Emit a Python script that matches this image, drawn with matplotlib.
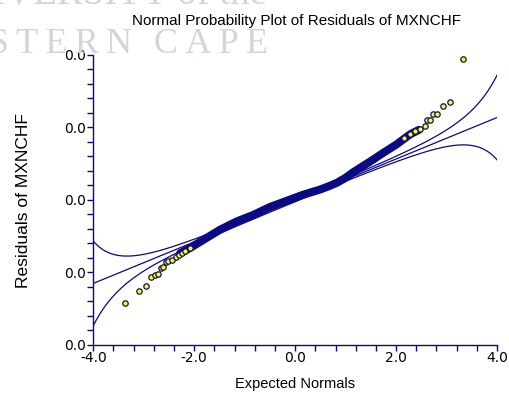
import math
import numpy as np
import matplotlib
matplotlib.use("Agg")
import matplotlib.pyplot as plt
from matplotlib.ticker import MultipleLocator, FixedLocator, FixedFormatter

# ---------------- data ----------------
title = "Normal Probability Plot of Residuals of MXNCHF"
x_label = "Expected Normals"
y_label = "Residuals of MXNCHF"

x_ticks = [-4.0, -2.0, 0.0, 2.0, 4.0]
x_tick_labels = ["-4.0", "-2.0", "0.0", "2.0", "4.0"]
y_ticks = [-0.04, -0.02, 0.0, 0.02, 0.04]
y_tick_labels = ["0.0", "0.0", "0.0", "0.0", "0.0"]

# dense central part of the ordered residuals (expected normal, residual)
band_x = [-2.28, -2.08, -1.82, -1.49, -1.16, -0.83, -0.50, -0.17,
          0.16, 0.49, 0.66, 0.83, 0.99, 1.15, 1.49, 1.75, 2.01, 2.28, 2.45]
band_y = [-0.0148, -0.0133, -0.0111, -0.0083, -0.0060, -0.0042, -0.0020, -0.0003,
          0.0014, 0.0028, 0.0037, 0.0047, 0.0060, 0.0076, 0.0106, 0.0130, 0.0153,
          0.0181, 0.0193]

# individually visible residuals in the lower tail
low_x = [-3.37, -3.09, -2.96, -2.85, -2.78, -2.71, -2.66, -2.61, -2.56, -2.51,
         -2.44, -2.37, -2.30, -2.25, -2.18, -2.08]
low_y = [-0.0285, -0.0252, -0.0238, -0.0214, -0.0209, -0.0206, -0.0188, -0.0187,
         -0.0172, -0.0169, -0.0166, -0.0158, -0.0153, -0.0148, -0.0142, -0.0134]

# individually visible residuals in the upper tail
high_x = [2.15, 2.28, 2.38, 2.48, 2.58, 2.62, 2.68, 2.74, 2.82, 2.92, 3.06, 3.33]
high_y = [0.0171, 0.0183, 0.0189, 0.0196, 0.0204, 0.0219, 0.0221,
          0.0236, 0.0238, 0.0258, 0.0271, 0.0388]

# reference line and confidence-band constant
line_intercept = -0.0002
line_slope = 0.00573
band_const = 0.000278

# ---------------- figure ----------------
W, H = 510, 396
fig = plt.figure(figsize=(W / 100, H / 100), dpi=100)
ax_left, ax_right, ax_top, ax_bottom = 93.3, 497.0, 55.0, 344.5
ax = fig.add_axes([ax_left / W, 1 - ax_bottom / H,
                   (ax_right - ax_left) / W, (ax_bottom - ax_top) / H])

navy = "#0a0a85"
plt.rcParams["font.family"] = ["Liberation Sans", "DejaVu Sans"]

# watermark (faint, partly cut off)
fig.text(267 / W, 1 - 4 / H, "UNIVERSITY of the", ha="right", va="baseline",
         fontsize=28, family="Liberation Serif", color="#d4d4da", zorder=0)
fig.text(268 / W, 1 - 53 / H, "W E S T E R N   C A P E".replace(" ", "\u2009"),
         ha="right", va="baseline", fontsize=26, family="Liberation Serif",
         color="#d4d4da", zorder=0)

# reference line and confidence bands
xs = np.linspace(-4, 4, 400)
cdf = np.array([0.5 * (1 + math.erf(v / math.sqrt(2))) for v in xs])
pdf = np.exp(-xs ** 2 / 2) / math.sqrt(2 * math.pi)
half = band_const * np.sqrt(cdf * (1 - cdf)) / pdf
center = line_intercept + line_slope * xs
ax.plot(xs, center, color=navy, lw=0.9, zorder=2)
ax.plot(xs, center + half, color=navy, lw=0.9, zorder=2)
ax.plot(xs, center - half, color=navy, lw=0.9, zorder=2)

# dense band of points
ax.plot(band_x, band_y, color=navy, lw=5.8, solid_capstyle="round",
        solid_joinstyle="round", zorder=3)
# individual points
ax.scatter(low_x, low_y, s=15, facecolor="#ffff00", edgecolor=navy, linewidth=0.9, zorder=4)
ax.scatter(high_x, high_y, s=15, facecolor="#ffff00", edgecolor=navy, linewidth=0.9, zorder=4)

ax.set_xlim(-4, 4)
ax.set_ylim(-0.04, 0.04)
ax.xaxis.set_major_locator(FixedLocator(x_ticks))
ax.xaxis.set_major_formatter(FixedFormatter(x_tick_labels))
ax.yaxis.set_major_locator(FixedLocator(y_ticks))
ax.yaxis.set_major_formatter(FixedFormatter(y_tick_labels))
ax.xaxis.set_minor_locator(MultipleLocator(0.4))
ax.yaxis.set_minor_locator(MultipleLocator(0.004))

for s in ["top", "right"]:
    ax.spines[s].set_visible(False)
for s in ["left", "bottom"]:
    ax.spines[s].set_color(navy)
    ax.spines[s].set_linewidth(1.0)
ax.tick_params(which="both", direction="out", color=navy, width=1.0, length=4,
               labelsize=10, labelcolor="black", pad=1)

fig.text(296 / W, 1 - 25 / H, title, ha="center", va="baseline", fontsize=11,
         color="black")
fig.text(295 / W, 1 - 388 / H, x_label, ha="center", va="baseline", fontsize=10.5,
         color="black")
fig.text(24 / W, 1 - 201 / H, y_label, ha="center", va="center", rotation=90,
         fontsize=12.5, color="black")

fig.savefig("out.png", dpi=100)
